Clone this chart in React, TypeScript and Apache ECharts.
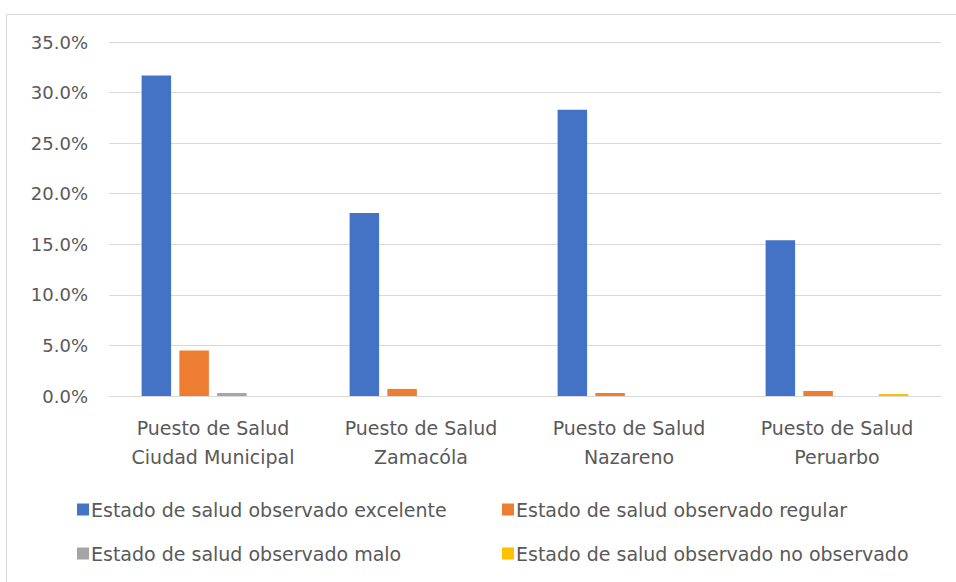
import React, { useEffect, useRef } from "react";
import * as echarts from "echarts";

const categories = [
  "Puesto de Salud\nCiudad Municipal",
  "Puesto de Salud\nZamacóla",
  "Puesto de Salud\nNazareno",
  "Puesto de Salud\nPeruarbo",
];
const seriesNames = [
  "Estado de salud observado excelente",
  "Estado de salud observado regular",
  "Estado de salud observado malo",
  "Estado de salud observado no observado",
];
const excelente = [31.7, 18.1, 28.3, 15.4];
const regular = [4.5, 0.7, 0.3, 0.5];
const malo = [0.3, 0, 0, 0];
const noObservado = [0, 0, 0, 0.2];
const colors = ["#4472C4", "#ED7D31", "#A5A5A5", "#FFC000"];
const FONT = "DejaVu Sans";
const FS = 19;

export default function App() {
  const ref = useRef<HTMLDivElement>(null);
  useEffect(() => {
    document.body.style.margin = "0";
    const chart = echarts.init(ref.current!, null, { renderer: "svg" });
    const data = [excelente, regular, malo, noObservado];
    chart.setOption({
      animation: false,
      backgroundColor: "#ffffff",
      textStyle: { fontFamily: FONT },
      grid: { left: 109, right: 15, top: 42, bottom: 186, containLabel: false },
      graphic: [
        {
          type: "rect",
          shape: { x: 6.5, y: 14.5, width: 960, height: 580 },
          style: { fill: "none", stroke: "#d9d9d9", lineWidth: 1 },
        },
      ],
      legend: [
        {
          orient: "vertical",
          left: 72,
          top: 495,
          itemWidth: 12,
          itemHeight: 12,
          itemGap: 25,
          icon: "rect",
          data: [seriesNames[0], seriesNames[2]],
          textStyle: { fontSize: FS, color: "#595959", fontFamily: FONT, padding: [0, 0, 0, -3] },
        },
        {
          orient: "vertical",
          left: 497,
          top: 495,
          itemWidth: 12,
          itemHeight: 12,
          itemGap: 25,
          icon: "rect",
          data: [seriesNames[1], seriesNames[3]],
          textStyle: { fontSize: FS, color: "#595959", fontFamily: FONT, padding: [0, 0, 0, -3] },
        },
      ],
      xAxis: {
        type: "category",
        data: categories,
        axisLine: { lineStyle: { color: "#d9d9d9", width: 1 } },
        axisTick: { show: false },
        axisLabel: {
          interval: 0,
          hideOverlap: false,
          color: "#595959",
          fontSize: FS,
          lineHeight: 29,
          margin: 17,
          fontFamily: FONT,
        },
      },
      yAxis: {
        type: "value",
        min: 0,
        max: 35,
        interval: 5,
        axisLine: { show: false },
        axisTick: { show: false },
        splitLine: { lineStyle: { color: "#d9d9d9", width: 1 } },
        axisLabel: {
          color: "#595959",
          fontSize: 18,
          margin: 21,
          fontFamily: FONT,
          formatter: (v: number) => v.toFixed(1) + "%",
        },
      },
      series: seriesNames.map((name, i) => ({
        name,
        type: "bar",
        data: data[i],
        barWidth: 29.5,
        barGap: "28%",
        itemStyle: { color: colors[i] },
      })),
    });
    return () => chart.dispose();
  }, []);
  return <div ref={ref} style={{ width: 956, height: 582 }} />;
}
